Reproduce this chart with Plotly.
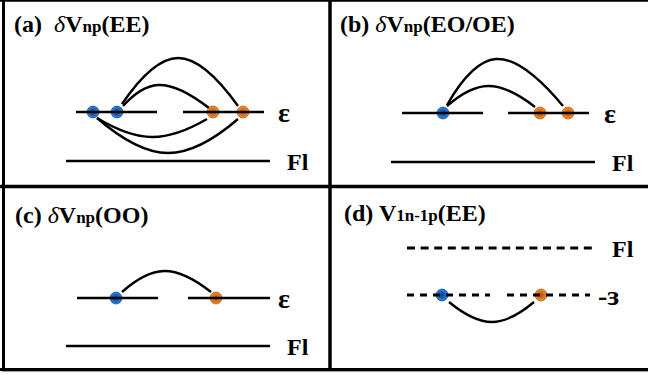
import plotly.graph_objects as go

W, H = 648, 375

# ---- panel titles (x, y-centre, text) ----
title_x = [12, 338, 13, 342]
title_y = [24, 24, 215, 213]
title_text = [
    "<b>(a)  </b><i>δ</i><b>V<span style='font-size:17px'>np</span>(EE)</b>",
    "<b>(b) </b><i>δ</i><b>V<span style='font-size:17px'>np</span>(EO/OE)</b>",
    "<b>(c) </b><i>δ</i><b>V<span style='font-size:17px'>np</span>(OO)</b>",
    "<b>(d) V<span style='font-size:17px'>1n-1p</span>(EE)</b>",
]

# ---- energy levels: solid / dashed horizontal segments ----
solid_x0 = [76, 183, 66, 402, 508, 391, 77, 188, 66]
solid_x1 = [157, 264, 270, 483, 589, 595, 158, 270, 270]
solid_y = [112, 112, 161, 113, 113, 162, 298, 298, 346]

dashed_x0 = [407, 407, 507]
dashed_x1 = [597, 490, 590]
dashed_y = [248, 295, 295]
dashed_pattern = ["8px,5.6px", "7px,6px", "7px,6px"]

# ---- level labels ----
label_x = [284, 298, 610, 623, 284, 298, 623, 608]
label_y = [112, 162, 113, 163, 298, 347, 249, 295]
label_text = ["ε", "Fl", "ε", "Fl", "ε", "Fl", "Fl", "-ɜ"]
label_size = [28, 24, 28, 24, 28, 24, 24, 28]

# ---- particles ----
blue_x = [93, 117, 443, 116, 442]
blue_y = [112, 112, 113, 298, 295]
orange_x = [213, 243, 540, 568, 216, 541]
orange_y = [112, 112, 113, 113, 298, 295]

# ---- interaction arcs (start, extremum, end) ----
arcs_x = [
    [122, 178, 238],   # (a) outer top
    [123, 158, 209],   # (a) inner top
    [97, 152, 207],    # (a) inner bottom
    [97, 168, 238],    # (a) outer bottom
    [447, 496, 563],   # (b) outer
    [447, 488, 535],   # (b) inner
    [122, 164, 211],   # (c)
    [449, 492, 534],   # (d)
]
arcs_y = [
    [104, 58, 106],
    [106, 85, 108],
    [118, 137, 119],
    [118, 153, 119],
    [105, 59, 106],
    [106, 86, 107],
    [292, 271, 292],
    [302, 322, 302],
]

fig = go.Figure()

for ax, ay in zip(arcs_x, arcs_y):
    fig.add_trace(go.Scatter(x=ax, y=ay, mode="lines",
                             line=dict(color="black", width=2.4, shape="spline", smoothing=1.3),
                             hoverinfo="skip", showlegend=False))

shapes = []
for x0, x1, y in zip(solid_x0, solid_x1, solid_y):
    shapes.append(dict(type="line", xref="x", yref="y", x0=x0, x1=x1, y0=y, y1=y,
                       line=dict(color="black", width=2.6)))
for x0, x1, y, d in zip(dashed_x0, dashed_x1, dashed_y, dashed_pattern):
    shapes.append(dict(type="line", xref="x", yref="y", x0=x0, x1=x1, y0=y, y1=y,
                       line=dict(color="black", width=3, dash=d)))

# frame and dividers
frame = [
    (3.5, 0, 3.5, 371, 3),
    (0, 0.8, W, 0.8, 2),
    (0, 369.5, W, 369.5, 3),
    (330, 0, 330, 370, 3.5),
    (0, 186.5, W, 186.5, 3.5),
]
for x0, y0, x1, y1, w in frame:
    shapes.append(dict(type="line", xref="x", yref="y", x0=x0, y0=y0, x1=x1, y1=y1,
                       line=dict(color="black", width=w)))
shapes.append(dict(type="line", xref="x", yref="y", x0=2, y0=371.6, x1=W, y1=371.6,
                   line=dict(color="#9a9a9a", width=1)))

fig.add_trace(go.Scatter(x=blue_x, y=blue_y, mode="markers",
                         marker=dict(size=12, color="#2a86e6",
                                     gradient=dict(type="radial", color="#0a3a8c"),
                                     line=dict(width=0.6, color="#0a3372")),
                         hoverinfo="skip", showlegend=False))
fig.add_trace(go.Scatter(x=orange_x, y=orange_y, mode="markers",
                         marker=dict(size=12, color="#f29030",
                                     gradient=dict(type="radial", color="#b84e06"),
                                     line=dict(width=0.6, color="#9a4005")),
                         hoverinfo="skip", showlegend=False))

annotations = []
for x, y, t in zip(title_x, title_y, title_text):
    annotations.append(dict(x=x, y=y, xref="x", yref="y", text=t, showarrow=False,
                            xanchor="left", yanchor="middle",
                            font=dict(family="Liberation Serif", size=24, color="black")))
for x, y, t, s in zip(label_x, label_y, label_text, label_size):
    annotations.append(dict(x=x, y=y, xref="x", yref="y", text="<b>" + t + "</b>",
                            showarrow=False, xanchor="center", yanchor="middle",
                            font=dict(family="Liberation Serif", size=s, color="black")))

fig.update_layout(
    width=W, height=H, margin=dict(l=0, r=0, t=0, b=0),
    paper_bgcolor="white", plot_bgcolor="white",
    xaxis=dict(range=[0, W], visible=False, fixedrange=True),
    yaxis=dict(range=[H, 0], visible=False, fixedrange=True),
    shapes=shapes, annotations=annotations, showlegend=False,
)

fig.write_html("out.html", config={"displayModeBar": False},
               post_script="document.body.style.margin='0';document.body.style.overflow='hidden';")
